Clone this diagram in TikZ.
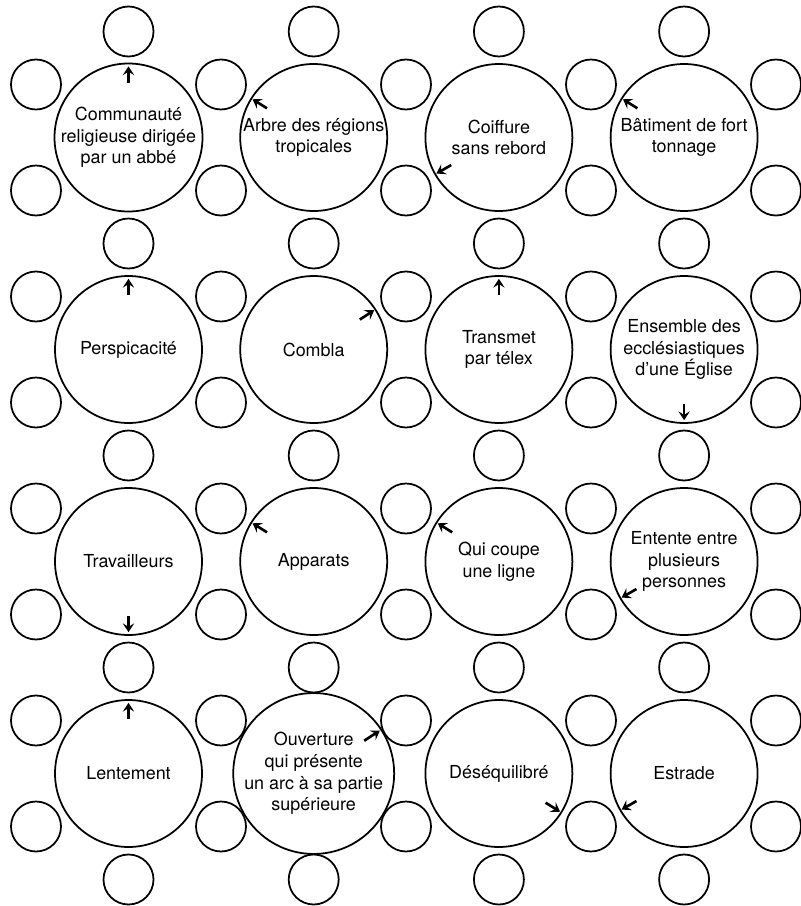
\documentclass[tikz,border=0pt]{standalone}
\usepackage{fontspec}
\setmainfont{TeX Gyre Heros}
\usepackage{tikz}
\usetikzlibrary{arrows.meta,calc}

\begin{document}
\begin{tikzpicture}
        [x=0.02cm,y=-0.02cm,
         clue/.style={circle,draw=black,line width=1pt,minimum size=2.94cm,inner sep=0pt,
                      align=center,font=\fontsize{10.2}{12.35}\selectfont},
         cell/.style={circle,draw=black,line width=1pt,minimum size=1cm,inner sep=0pt},
         start/.style={line width=1.5pt,-{Stealth[length=5pt,width=6.5pt,inset=2pt]}}]
        \useasboundingbox (0,0) rectangle (801,906);

        % clue circles
        \node [clue,name=c11] at (128.5,137.5) {Communauté\\religieuse dirigée\\par un abbé};
        \node [clue,name=c12] at (313.7,137.5) {Arbre des régions\\tropicales};
        \node [clue,name=c13] at (498.9,137.5) {Coiffure\\sans rebord};
        \node [clue,name=c14] at (684.1,137.5) {Bâtiment de fort\\tonnage};

        \node [clue,name=c21] at (128.5,349.5) {Perspicacité};
        \node [clue,name=c22] at (313.7,349.5) {Combla};
        \node [clue,name=c23] at (498.9,349.5) {Transmet\\par télex};
        \node [clue,name=c24] at (684.1,349.5) {Ensemble des\\ecclésiastiques\\d’une Église};

        \node [clue,name=c31] at (128.5,561.5) {Travailleurs};
        \node [clue,name=c32] at (313.7,561.5) {Apparats};
        \node [clue,name=c33] at (498.9,561.5) {Qui coupe\\une ligne};
        \node [clue,name=c34] at (684.1,561.5) {Entente entre\\plusieurs\\personnes};

        \node [clue,name=c41] at (128.5,773.5) {Lentement};
        \node [clue,name=c42] at (313.7,773.5) {Ouverture\\qui présente\\un arc à sa partie\\supérieure};
        \node [clue,name=c43] at (498.9,773.5) {Déséquilibré};
        \node [clue,name=c44] at (684.1,773.5) {Estrade};

        % letter cells
        \foreach \x [count=\i] in {128.5,313.7,498.9,684.1}
          \foreach \y [count=\j] in {31.5,243.5,455.5,667.5,879.5}
            \node [cell,name=v\i\j] at (\x,\y) {};
        \foreach \x [count=\i] in {36,221,406,591,776}
          \foreach \y [count=\j] in {84.5,190.5,296.5,402.5,508.5,614.5,720.5,826.5}
            \node [cell,name=h\i\j] at (\x,\y) {};

        % start arrows
        \draw [start] ($(c11)!0.73!(c11.90)$) -- ($(c11)!0.95!(c11.90)$);
        \draw [start] ($(c12)!0.74!(c12.148)$) -- ($(c12)!0.97!(c12.148)$);
        \draw [start] ($(c13)!0.74!(c13.210)$) -- ($(c13)!0.97!(c13.210)$);
        \draw [start] ($(c14)!0.74!(c14.148)$) -- ($(c14)!0.97!(c14.148)$);
        \draw [start] ($(c21)!0.73!(c21.90)$) -- ($(c21)!0.95!(c21.90)$);
        \draw [start] ($(c22)!0.74!(c22.33)$) -- ($(c22)!0.97!(c22.33)$);
        \draw [start] ($(c23)!0.73!(c23.90)$) -- ($(c23)!0.95!(c23.90)$);
        \draw [start] ($(c24)!0.73!(c24.270)$) -- ($(c24)!0.95!(c24.270)$);
        \draw [start] ($(c31)!0.73!(c31.270)$) -- ($(c31)!0.95!(c31.270)$);
        \draw [start] ($(c32)!0.74!(c32.148)$) -- ($(c32)!0.97!(c32.148)$);
        \draw [start] ($(c33)!0.74!(c33.148)$) -- ($(c33)!0.97!(c33.148)$);
        \draw [start] ($(c34)!0.74!(c34.210)$) -- ($(c34)!0.97!(c34.210)$);
        \draw [start] ($(c41)!0.73!(c41.90)$) -- ($(c41)!0.95!(c41.90)$);
        \draw [start] ($(c42)!0.74!(c42.33)$) -- ($(c42)!0.97!(c42.33)$);
        \draw [start] ($(c43)!0.74!(c43.328)$) -- ($(c43)!0.97!(c43.328)$);
        \draw [start] ($(c44)!0.74!(c44.210)$) -- ($(c44)!0.97!(c44.210)$);
\end{tikzpicture}
\end{document}
